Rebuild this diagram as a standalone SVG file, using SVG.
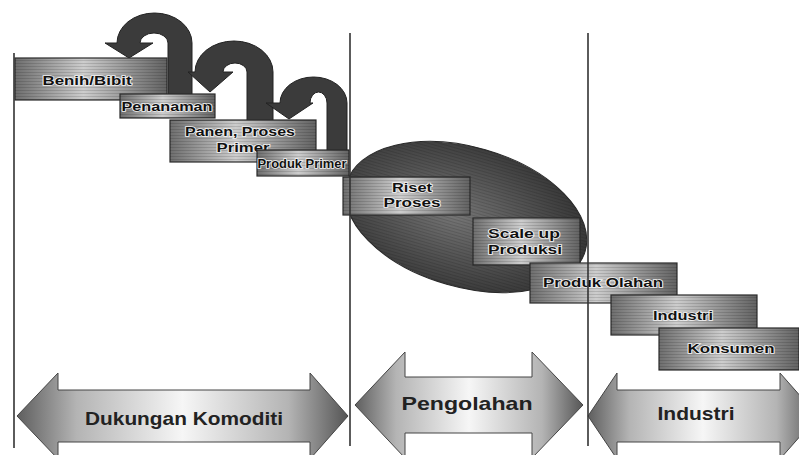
<svg xmlns="http://www.w3.org/2000/svg" width="799" height="455" viewBox="0 0 799 455">
<defs>
<linearGradient id="boxg" x1="0" y1="0" x2="1" y2="0">
<stop offset="0" stop-color="#6e6e6e"/>
<stop offset="0.45" stop-color="#cdcdcd"/>
<stop offset="1" stop-color="#626262"/>
</linearGradient>
<linearGradient id="bandg" x1="0" y1="0" x2="1" y2="0">
<stop offset="0" stop-color="#5e5e5e"/>
<stop offset="0.18" stop-color="#b4b4b4"/>
<stop offset="0.5" stop-color="#f6f6f6"/>
<stop offset="0.82" stop-color="#b4b4b4"/>
<stop offset="1" stop-color="#555"/>
</linearGradient>
<radialGradient id="ellg" cx="0.45" cy="0.5" r="0.55">
<stop offset="0" stop-color="#767676"/>
<stop offset="1" stop-color="#383838"/>
</radialGradient>
<pattern id="streak" width="6" height="3" patternUnits="userSpaceOnUse">
<rect width="6" height="1" fill="#000" opacity="0.13"/>
</pattern>
<style>
.box{fill:url(#boxg);stroke:#2a2a2a;stroke-width:1.2}
.tex{fill:url(#streak);stroke:none}
.bt{font-family:"Liberation Sans",Arial,sans-serif;font-weight:bold;font-size:13px;fill:#111;stroke:#f2f2f2;stroke-width:1.6;paint-order:stroke;text-anchor:middle}
.band{fill:url(#bandg);stroke:#444;stroke-width:1}
.lt{font-family:"Liberation Sans",Arial,sans-serif;font-weight:bold;font-size:19px;fill:#222;text-anchor:middle}
.uturn{fill:#3b3b3b;stroke:#222;stroke-width:1}
.div{stroke:#333;stroke-width:1.6;fill:none}
</style>
</defs>
<rect width="799" height="455" fill="#fff"/>

<g id="connectors">
<path class="uturn" d="M168 97 L168 43 A14 10 0 0 0 140 43 L153 43 L129 58 L105 43 L117 43 A37.5 30 0 0 1 192 43 L192 97 Z"/>
<path class="uturn" d="M247 122 L247 72 A12 9 0 0 0 223 72 L233 72 L210 92 L188 72 L195 72 A39 31 0 0 1 273 72 L273 122 Z"/>
<path class="uturn" d="M327 160 L327 103 A8.5 11 0 0 0 310 103 L313 103 L289 119 L266 103 L280 103 A33.5 26 0 0 1 347 103 L347 160 Z"/>
</g>

<g id="benih-bibit">
<rect x="15" y="58" width="152" height="42" class="box"/>
<rect x="15" y="58" width="152" height="42" class="tex"/>
<text x="87" y="85" class="bt" font-size="14" textLength="89" lengthAdjust="spacingAndGlyphs">Benih/Bibit</text>
</g>
<g id="penanaman">
<rect x="120" y="94" width="95" height="24" class="box"/>
<rect x="120" y="94" width="95" height="24" class="tex"/>
<text x="167" y="111" class="bt" textLength="91" lengthAdjust="spacingAndGlyphs">Penanaman</text>
</g>
<g id="panen-proses-primer">
<rect x="170" y="120" width="146" height="42" class="box"/>
<rect x="170" y="120" width="146" height="42" class="tex"/>
<text x="240" y="136" class="bt" font-size="12" textLength="110" lengthAdjust="spacingAndGlyphs">Panen, Proses</text>
<text x="243" y="152" class="bt" font-size="12" textLength="53" lengthAdjust="spacingAndGlyphs">Primer</text>
</g>
<g id="produk-primer">
<rect x="257" y="150" width="92" height="26" class="box"/>
<rect x="257" y="150" width="92" height="26" class="tex"/>
<text x="302" y="168" class="bt" font-size="12" textLength="89" lengthAdjust="spacingAndGlyphs">Produk Primer</text>
</g>

<g id="pengolahan-ellipse">
<ellipse cx="466" cy="217" rx="124" ry="70" transform="rotate(16 466 217)" fill="url(#ellg)" stroke="#2a2a2a" stroke-width="1"/>
<ellipse cx="466" cy="217" rx="124" ry="70" transform="rotate(16 466 217)" class="tex"/>
</g>
<g id="riset-proses">
<rect x="343" y="177" width="127" height="38" class="box"/>
<rect x="343" y="177" width="127" height="38" class="tex"/>
<text x="412" y="192" class="bt" font-size="14" textLength="40" lengthAdjust="spacingAndGlyphs">Riset</text>
<text x="412" y="207" class="bt" font-size="14" textLength="57" lengthAdjust="spacingAndGlyphs">Proses</text>
</g>
<g id="scale-up-produksi">
<rect x="473" y="218" width="107" height="47" class="box"/>
<rect x="473" y="218" width="107" height="47" class="tex"/>
<text x="524" y="238" class="bt" font-size="12" textLength="72" lengthAdjust="spacingAndGlyphs">Scale up</text>
<text x="525" y="254" class="bt" font-size="12" textLength="74" lengthAdjust="spacingAndGlyphs">Produksi</text>
</g>
<g id="produk-olahan">
<rect x="530" y="263" width="147" height="40" class="box"/>
<rect x="530" y="263" width="147" height="40" class="tex"/>
<text x="603" y="287" class="bt" textLength="120" lengthAdjust="spacingAndGlyphs">Produk Olahan</text>
</g>
<g id="industri">
<rect x="611" y="295" width="146" height="40" class="box"/>
<rect x="611" y="295" width="146" height="40" class="tex"/>
<text x="683" y="320" class="bt" textLength="60" lengthAdjust="spacingAndGlyphs">Industri</text>
</g>
<g id="konsumen">
<rect x="659" y="328" width="140" height="42" class="box"/>
<rect x="659" y="328" width="140" height="42" class="tex"/>
<text x="731" y="353" class="bt" textLength="87" lengthAdjust="spacingAndGlyphs">Konsumen</text>
</g>

<g id="band-dukungan-komoditi">
<polygon class="band" points="17,416 58,373 58,390 310,390 310,373 348,416 310,459 310,442 58,442 58,459"/>
<text x="184" y="425" class="lt" textLength="198" lengthAdjust="spacingAndGlyphs">Dukungan Komoditi</text>
</g>
<g id="band-pengolahan">
<polygon class="band" points="355,405 405,352 405,377 532,377 532,352 583,405 532,458 532,433 405,433 405,458"/>
<text x="467" y="410" class="lt" textLength="131" lengthAdjust="spacingAndGlyphs">Pengolahan</text>
</g>
<g id="band-industri">
<polygon class="band" points="588,416 617,373 617,390 780,390 780,373 818,416 780,459 780,442 617,442 617,459"/>
<text x="696" y="420" class="lt" textLength="77" lengthAdjust="spacingAndGlyphs">Industri</text>
</g>

<g id="dividers">
<line class="div" x1="14" y1="53" x2="14" y2="448"/>
<line class="div" x1="350" y1="33" x2="350" y2="446"/>
<line class="div" x1="588" y1="33" x2="588" y2="446"/>
</g>
</svg>
